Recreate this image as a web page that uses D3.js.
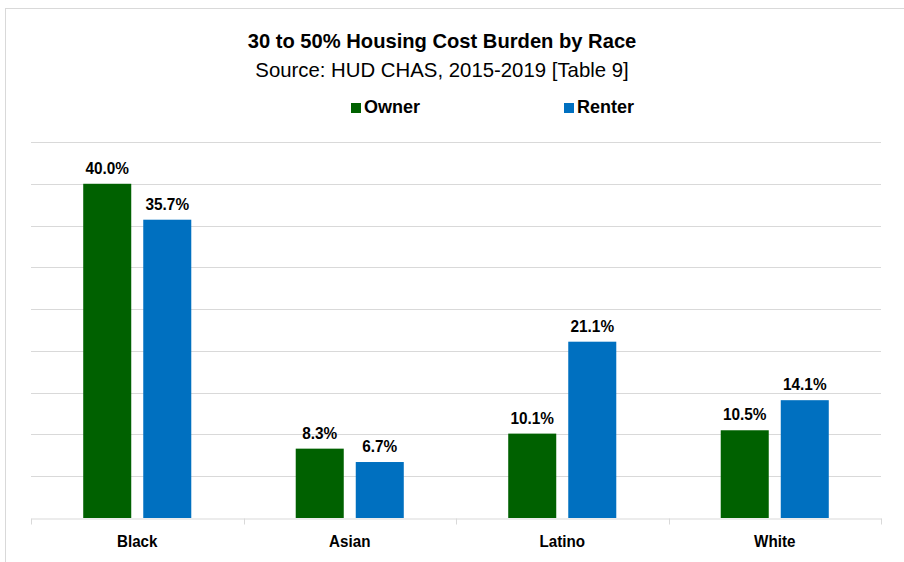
<!DOCTYPE html>
<html lang="en">
<head>
<meta charset="utf-8">
<style>
  body { margin: 0; background: #fff; }
  svg text { font-family: "Liberation Sans Narrow", "Liberation Sans", Arial, sans-serif; fill: #000; }
</style>
</head>
<body>
<div id="chart"></div>
<script src="https://d3js.org/d3.v7.min.js"></script>
<script>
// data
var categories = ["Black", "Asian", "Latino", "White"];
var series = ["Owner", "Renter"];
var owner = [40.0, 8.3, 10.1, 10.5];
var renter = [35.7, 6.7, 21.1, 14.1];
var colors = ["#006100", "#0070c0"];
var yTicks = [0, 5, 10, 15, 20, 25, 30, 35, 40, 45];

var width = 904, height = 562;
var margin = { top: 142, right: 23, bottom: 44, left: 31 };

var svg = d3.select("#chart").append("svg")
    .attr("width", width)
    .attr("height", height);

// outer frame
svg.append("rect")
    .attr("x", 5.5).attr("y", 8.5)
    .attr("width", 920).attr("height", 600)
    .attr("fill", "none")
    .attr("stroke", "#d9d9d9");

var rows = categories.map(function (c, i) {
    return { cat: c, values: [owner[i], renter[i]] };
});

var x0 = d3.scaleBand()
    .domain(categories)
    .range([margin.left, width - margin.right])
    .padding(0);

var x1 = d3.scaleBand()
    .domain(series)
    .range([0, x0.bandwidth()])
    .paddingInner(0.2)
    .paddingOuter(0.87);

var y = d3.scaleLinear()
    .domain([0, 45])
    .range([height - margin.bottom, margin.top]);

// text squeezed a bit to look like the narrow font of the original
function narrow(sel, x, y, k) {
    sel.attr("transform", "translate(" + x + "," + y + ") scale(" + k + ",1)");
}

// gridlines
svg.append("g")
    .selectAll("line")
    .data(yTicks.slice(1))
    .enter()
    .append("line")
    .attr("x1", margin.left)
    .attr("x2", width - margin.right)
    .attr("y1", function (d) { return Math.round(y(d)) + 0.5; })
    .attr("y2", function (d) { return Math.round(y(d)) + 0.5; })
    .attr("stroke", "#d9d9d9");

// bars
var groups = svg.append("g")
    .selectAll("g")
    .data(rows)
    .enter()
    .append("g")
    .attr("transform", function (d) { return "translate(" + x0(d.cat) + ",0)"; });

groups.selectAll("rect")
    .data(function (d) { return d.values.map(function (v, i) { return { s: series[i], v: v, i: i }; }); })
    .enter()
    .append("rect")
    .attr("x", function (d) { return x1(d.s); })
    .attr("y", function (d) { return y(d.v); })
    .attr("width", x1.bandwidth())
    .attr("height", function (d) { return y(0) - y(d.v); })
    .attr("fill", function (d) { return colors[d.i]; });

groups.selectAll("text")
    .data(function (d) { return d.values.map(function (v, i) { return { s: series[i], v: v }; }); })
    .enter()
    .append("text")
    .attr("transform", function (d) {
        return "translate(" + (x1(d.s) + x1.bandwidth() / 2) + "," + (y(d.v) - 10) + ") scale(0.96,1)";
    })
    .attr("text-anchor", "middle")
    .attr("font-size", "16px")
    .attr("font-weight", "bold")
    .text(function (d) { return d.v.toFixed(1) + "%"; });

// x axis
var xAxis = svg.append("g")
    .attr("transform", "translate(0," + (Math.round(y(0)) + 0.5) + ")")
    .call(d3.axisBottom(x0).tickSize(0).tickPadding(17));

xAxis.select(".domain").attr("stroke", "#d9d9d9");
xAxis.selectAll(".tick text")
    .attr("font-size", "16px")
    .attr("font-weight", "bold")
    .attr("font-family", null)
    .attr("transform", "scale(0.95,1)")
    .attr("x", function () { return 0; });

// category separators
xAxis.selectAll(".sep")
    .data(categories.concat(["end"]))
    .enter()
    .append("line")
    .attr("class", "sep")
    .attr("x1", function (d, i) { return Math.round(margin.left + i * x0.step()) + 0.5; })
    .attr("x2", function (d, i) { return Math.round(margin.left + i * x0.step()) + 0.5; })
    .attr("y1", 0)
    .attr("y2", 6)
    .attr("stroke", "#d9d9d9");

// title
svg.append("text")
    .call(narrow, 442, 48, 0.96)
    .attr("text-anchor", "middle")
    .attr("font-size", "21px")
    .attr("font-weight", "bold")
    .text("30 to 50% Housing Cost Burden by Race");

svg.append("text")
    .call(narrow, 442, 77, 0.97)
    .attr("text-anchor", "middle")
    .attr("font-size", "21px")
    .text("Source: HUD CHAS, 2015-2019 [Table 9]");

// legend
var legendX = [351, 564];
var legend = svg.append("g")
    .selectAll("g")
    .data(series)
    .enter()
    .append("g")
    .attr("transform", function (d, i) { return "translate(" + legendX[i] + ",103)"; });

legend.append("rect")
    .attr("width", 10).attr("height", 10)
    .attr("fill", function (d, i) { return colors[i]; });

legend.append("text")
    .attr("x", 13).attr("y", 10)
    .attr("font-size", "18px")
    .attr("font-weight", "bold")
    .text(function (d) { return d; });
</script>
</body>
</html>
